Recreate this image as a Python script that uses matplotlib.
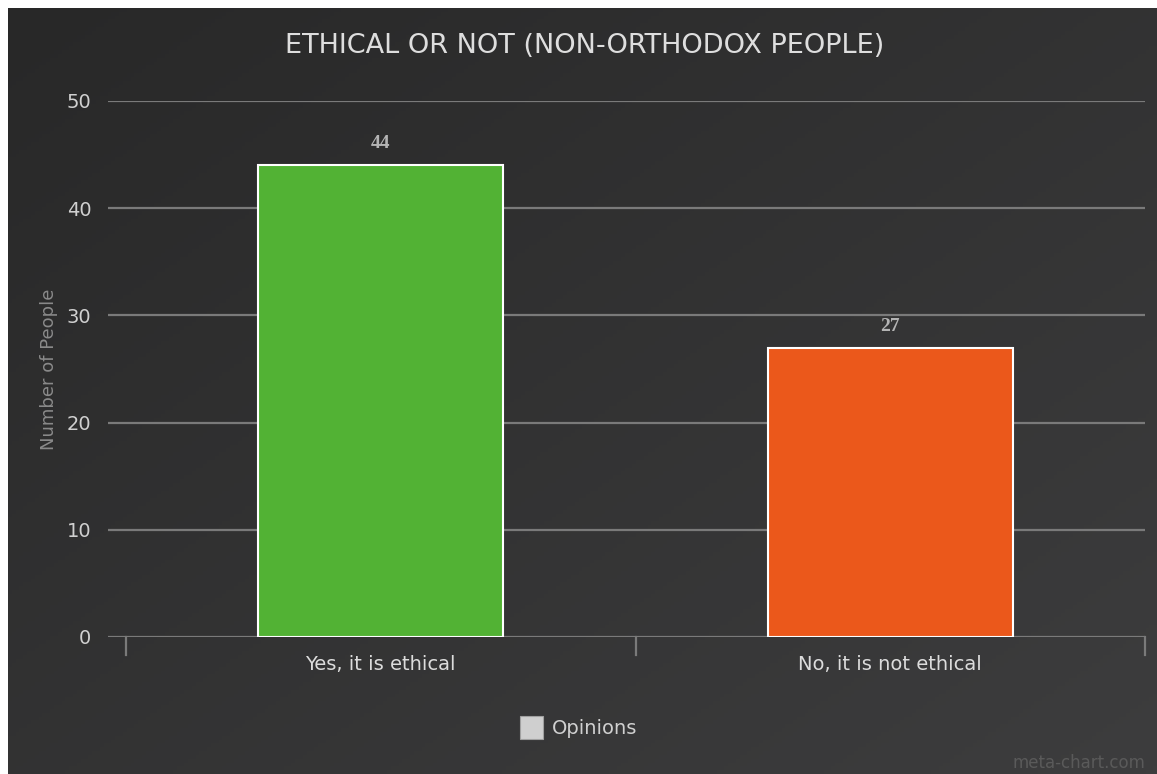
import numpy as np
import matplotlib
matplotlib.use("Agg")
import matplotlib.pyplot as plt
from matplotlib.patches import Rectangle

# chart data
categories = ["Yes, it is ethical", "No, it is not ethical"]
counts = [44, 27]
bar_colors = ["#52b234", "#eb581b"]
y_ticks = [0, 10, 20, 30, 40, 50]

TITLE = "ETHICAL OR NOT (NON-ORTHODOX PEOPLE)"
FONT = ["DejaVu Sans"]

W, H = 1157, 774
fig = plt.figure(figsize=(W / 100, H / 100), dpi=100, facecolor="white")


def px(x0, y0, x1, y1):
    """Figure-fraction rect from pixel box (top-left origin)."""
    return [x0 / W, 1 - y1 / H, (x1 - x0) / W, (y1 - y0) / H]


# dark diagonal gradient panel
bg = fig.add_axes(px(8, 8, W, H))
bg.set_axis_off()
yy, xx = np.mgrid[0:1:200j, 0:1:300j]
grad = 0.5 * xx + 0.5 * yy
bg.imshow(grad, cmap=matplotlib.colors.LinearSegmentedColormap.from_list(
    "bg", ["#282828", "#3d3d3e"]), aspect="auto", extent=(0, 1, 0, 1),
    origin="upper")

# plotting area: gridlines start 18px left of the first category band
ax = fig.add_axes(px(108, 101, 1145, 637))
ax.patch.set_alpha(0)
band = (1145 - 126) / 2.0
left = -0.5 - 18 / band
ax.set_xlim(left, 1.5)
ax.set_ylim(0, 50)

x = np.arange(len(categories))
ax.bar(x, counts, width=245 / band, color=bar_colors, edgecolor="white",
       linewidth=1.5, zorder=3)
for xi, v in zip(x, counts):
    ax.text(xi, v + 1.2, str(v), ha="center", va="bottom", color="#b4b4b4",
            fontsize=14, fontweight="bold", family="Liberation Serif")

ax.set_yticks(y_ticks)
ax.grid(axis="y", color="#7a7a7a", linewidth=1.6, zorder=1)
ax.tick_params(axis="y", length=0, pad=12, colors="#d0d0d0", labelsize=14)
ax.set_xticks([])
for s in ax.spines.values():
    s.set_visible(False)

# category band separators below the baseline
for b in (-0.5, 0.5, 1.5):
    ax.plot([b, b], [0, -18 / 536 * 50], color="#7a7a7a", lw=1.6,
            clip_on=False, zorder=2)
for xi, name in zip(x, categories):
    ax.text(xi, -27 / 536 * 50, name, ha="center", va="center",
            color="#dcdcdc", fontsize=14, family=FONT)

ax.set_ylabel("Number of People", color="#8a8a8a", fontsize=13,
              family=FONT, labelpad=6)

fig.text(585 / W, 1 - 46 / H, TITLE, ha="center", va="center",
         color="#dedede", fontsize=19.5, family=FONT)

# legend swatch and label
fig.patches.append(Rectangle((520 / W, 1 - 739 / H), 23 / W, 23 / H,
                             transform=fig.transFigure, facecolor="#cfcfcf",
                             edgecolor="#a0a0a0", lw=0.8))
fig.text(552 / W, 1 - 728 / H, "Opinions", ha="left", va="center",
         color="#d0d0d0", fontsize=14, family=FONT)

fig.text(1145 / W, 1 - 763 / H, "meta-chart.com", ha="right", va="center",
         color="#5a5a5a", fontsize=12, family=FONT)

fig.savefig("out.png", dpi=100, facecolor="white")
